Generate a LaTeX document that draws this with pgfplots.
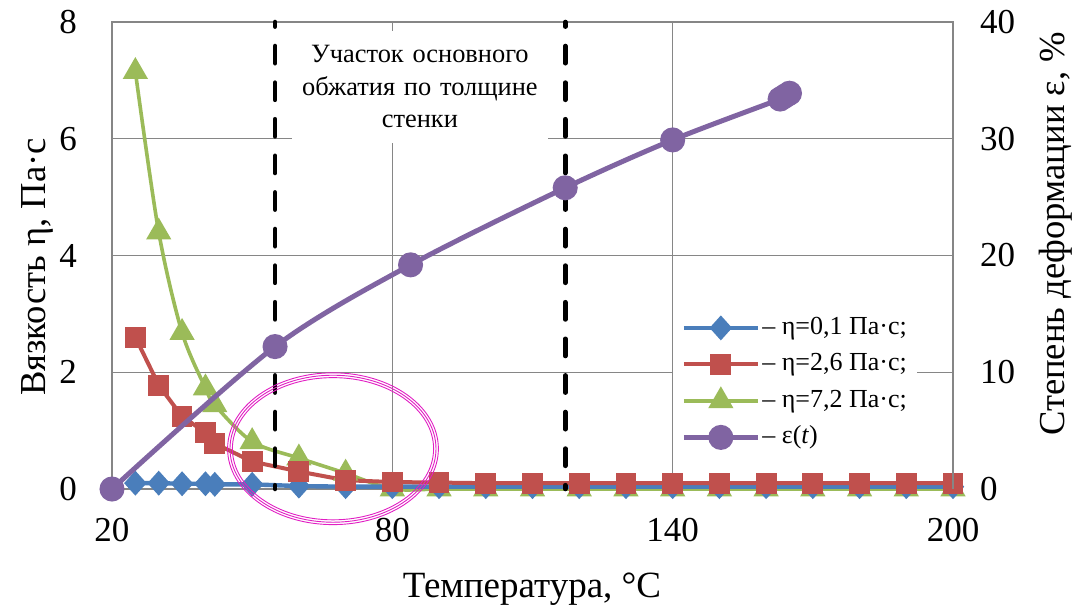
\documentclass[border=0pt]{standalone}
\usepackage{fontspec}
\setmainfont{Liberation Serif}
\usepackage{pgfplots}
\pgfplotsset{compat=1.18}
\definecolor{cBlue}{RGB}{74,126,187}
\definecolor{cRed}{RGB}{192,80,77}
\definecolor{cGreen}{RGB}{155,187,89}
\definecolor{cPurple}{RGB}{128,100,162}
\definecolor{cGrid}{RGB}{134,134,134}
\definecolor{cMag}{RGB}{225,30,195}
\begin{document}
\begin{tikzpicture}
\useasboundingbox (-56pt,-59pt) rectangle (485pt,244.5pt);
\pgfplotsset{
  common/.style={
    width=420.5pt, height=233.5pt, scale only axis,
    at={(0,0)}, anchor=south west,
    xmin=20, xmax=200, clip=false,
    major tick length=0pt,
    /pgf/number format/assume math mode=true,
    ticklabel style={font=\fontsize{17.5}{21}\selectfont},
    axis line style={draw=cGrid, line width=0.7pt},
  }
}
\begin{axis}[common,
  ymin=0, ymax=8,
  xtick={20,80,140,200}, ytick={0,2,4,6,8},
  grid=major, grid style={draw=cGrid, line width=0.7pt},
  yticklabel style={xshift=-14pt},
  xticklabel style={yshift=-11pt},
]
\node[fill=white, inner sep=0pt, minimum width=128pt, minimum height=56pt,
      text width=128pt, align=center, font=\fontsize{13.2}{16.25}\selectfont]
      at (axis cs:85.9,6.89) {Участок основного\\обжатия по толщине\\стенки};
% eta = 7.2
\addplot[cGreen, line width=1.8pt, smooth, mark=triangle*, mark size=5.5pt, mark options={solid}]
coordinates {(25,7.15)(30,4.40)(35,2.68)(40,1.73)(42,1.44)(50,0.81)(60,0.53)(70,0.27)(80,0.0)(90,0)(100,0)(110,0)(120,0)(130,0)(140,0)(150,0)(160,0)(170,0)(180,0)(190,0)(200,0)};
% eta = 0.1
\addplot[cBlue, line width=2.2pt, mark=diamond*, mark size=4.6pt, mark options={solid, xscale=1.2}]
coordinates {(25,0.10)(30,0.10)(35,0.09)(40,0.09)(42,0.08)(50,0.08)(60,0.05)(70,0.04)(80,0.04)(90,0.04)(100,0.04)(110,0.04)(120,0.04)(130,0.04)(140,0.04)(150,0.04)(160,0.04)(170,0.04)(180,0.04)(190,0.04)(200,0.04)};
% eta = 2.6
\addplot[cRed, line width=2pt, mark=square*, mark size=4.2pt, mark options={solid}]
coordinates {(25,2.60)(30,1.78)(35,1.24)(40,0.97)(42,0.78)(50,0.47)(60,0.30)(70,0.15)(80,0.12)(90,0.11)(100,0.10)(110,0.10)(120,0.10)(130,0.10)(140,0.10)(150,0.10)(160,0.10)(170,0.10)(180,0.10)(190,0.10)(200,0.10)};
\draw[black, line width=2.3pt, line cap=round, dash pattern=on 8.6pt off 9.7pt, dash phase=6.3pt] (axis cs:54.9,8) -- (axis cs:54.9,0);
\draw[black, line width=2.3pt, line cap=round, dash pattern=on 8.6pt off 9.7pt, dash phase=6.3pt] (axis cs:117,8) -- (axis cs:117,0);
\end{axis}
\begin{axis}[common,
  ymin=0, ymax=40,
  axis y line*=right, axis x line=none,
  ytick={0,10,20,30,40},
  yticklabel style={xshift=10pt},
  legend style={at={(0.667,0.394)}, anchor=north west, draw=none, fill=white,
    font=\fontsize{13}{15.6}\selectfont, row sep=3.75pt, inner xsep=4pt, inner ysep=4pt,
    nodes={inner sep=1pt, text height=9.5pt, text depth=3pt}},
  legend cell align=left,
  legend image code/.code={\draw[mark repeat=2,mark phase=2] plot coordinates {(0pt,0pt) (18.5pt,0pt) (37pt,0pt)};},
]
\addlegendimage{cBlue, line width=2.2pt, mark=diamond*, mark size=4.6pt, mark options={solid, xscale=1.2}}
\addlegendentry{– η=0,1 Па·с;}
\addlegendimage{cRed, line width=2pt, mark=square*, mark size=4.2pt, mark options={solid}}
\addlegendentry{– η=2,6 Па·с;}
\addlegendimage{cGreen, line width=1.8pt, mark=triangle*, mark size=5.5pt, mark options={solid}}
\addlegendentry{– η=7,2 Па·с;}
\addplot[cPurple, line width=2.5pt, smooth, mark=*, mark size=5pt, mark options={solid}]
coordinates {(20,0)(54.9,12.2)(83.9,19.2)(117,25.8)(140,29.9)(163,33.4)(164,33.65)(165,33.9)};
\addlegendentry{– ε(\textit{t})}
\draw[cMag, line width=0.45pt] (axis cs:67.3,3.45) ellipse [x radius=50.3pt, y radius=35.55pt];
\draw[cMag, line width=0.45pt] (axis cs:67.3,3.45) ellipse [x radius=51.5pt, y radius=36.75pt];
\draw[cMag, line width=0.45pt] (axis cs:67.3,3.45) ellipse [x radius=52.7pt, y radius=37.95pt];
\end{axis}
\node[rotate=90, font=\fontsize{18.3}{21}\selectfont] at (-37.5pt,111pt) {Вязкость η, Па·с};
\node[rotate=90, font=\fontsize{18.3}{21}\selectfont] at (472pt,127.5pt) {Степень деформации ε, \%};
\node[anchor=base, font=\fontsize{18.5}{21}\selectfont] at (210pt,-54pt) {Температура, °C};
\end{tikzpicture}
\end{document}
